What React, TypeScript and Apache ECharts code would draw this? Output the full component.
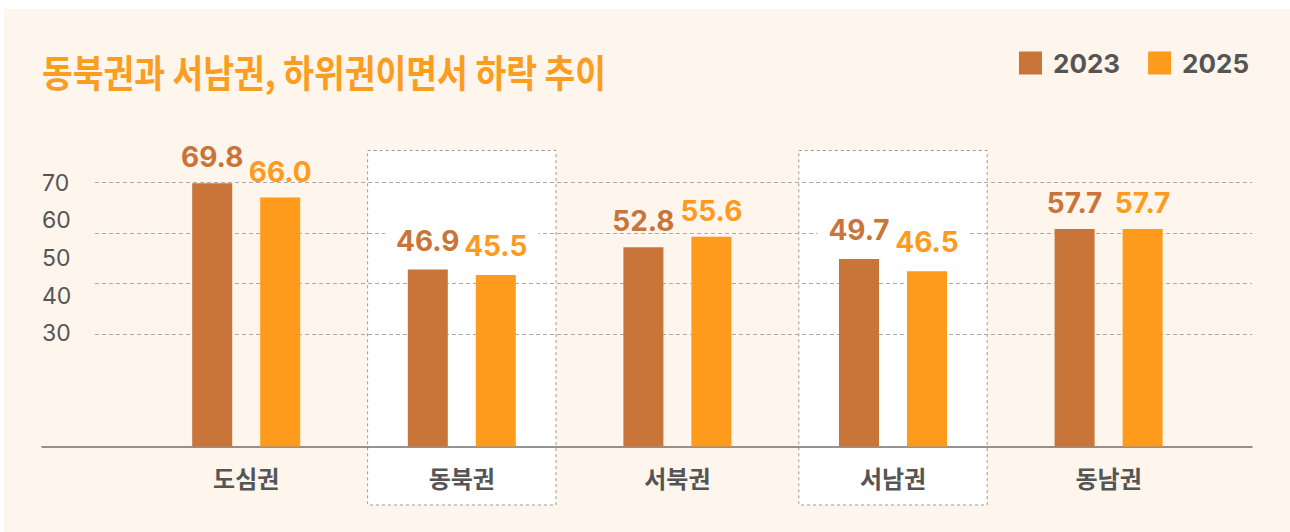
import React, { useEffect, useRef } from "react";
import * as echarts from "echarts";

const titleText = "동북권과 서남권, 하위권이면서 하락 추이";
const categories = ["도심권", "동북권", "서북권", "서남권", "동남권"];
const seriesNames = ["2023", "2025"];
const values2023 = [69.8, 46.9, 52.8, 49.7, 57.7];
const values2025 = [66.0, 45.5, 55.6, 46.5, 57.7];
const yTickLabels = [30, 40, 50, 60, 70];
const highlighted = ["동북권", "서남권"];

const C2023 = "#C97439";
const C2025 = "#FF9B1C";
const TITLE_C = "#FA9D20";
const CREAM = "#FEF5EC";
const W = 1290;
const H = 532;

export default function App() {
  const ref = useRef<HTMLDivElement>(null);

  useEffect(() => {
    if (!ref.current) return;
    const chart = echarts.init(ref.current, null, { renderer: "svg" });
    const top = 182.5;
    const baseY = 446.5;

    // side: 0 = left bar of the pair, 1 = right bar
    const mk = (vals: number[], side: number) =>
      vals.map((v, i) => ({
        value: v,
        label: highlighted.includes(categories[i])
          ? {
              backgroundColor: "#ffffff",
              padding: side === 0 ? [3, 3, 3, 11] : [3, 11, 3, 3],
              offset: side === 0 ? [-4, 0] : [4, 0],
            }
          : {},
      }));

    const barLabel = (color: string) => ({
      show: true,
      position: "top",
      distance: 12,
      fontSize: 28,
      fontWeight: "bold",
      fontFamily: "Inter",
      color,
      formatter: (p: any) => Number(p.value).toFixed(1),
    });

    chart.setOption({
      animation: false,
      backgroundColor: "#ffffff",
      textStyle: { fontFamily: 'Inter, "Noto Sans CJK KR", sans-serif' },
      legend: {
        data: seriesNames,
        right: 36,
        top: 45,
        itemWidth: 23,
        itemHeight: 23,
        itemGap: 28,
        icon: "rect",
        textStyle: {
          fontSize: 26,
          fontWeight: "bold",
          color: "#555555",
          fontFamily: "Inter",
          padding: [0, 0, 0, 6],
        },
      },
      grid: [
        { left: 42, right: 38, top, bottom: H - baseY },
        { left: 95, right: 38, top, bottom: H - 334 },
        { left: 138.4, right: 73.6, top, bottom: H - baseY },
      ],
      xAxis: [
        {
          type: "value",
          gridIndex: 0,
          min: 0,
          max: 1,
          axisLine: { show: true, onZero: false, lineStyle: { color: "#707070", width: 1.5 } },
          axisTick: { show: false },
          axisLabel: { show: false },
          splitLine: { show: false },
        },
        { type: "value", gridIndex: 1, min: 0, max: 1, show: false },
        {
          type: "category",
          gridIndex: 2,
          data: categories,
          axisLine: { show: false },
          axisTick: { show: false },
          axisLabel: {
            margin: 18.5,
            fontSize: 24,
            fontWeight: "bold",
            color: "#555555",
            fontFamily: '"Noto Sans CJK KR"',
          },
        },
      ],
      yAxis: [
        {
          type: "value",
          gridIndex: 0,
          min: 0,
          max: 70,
          interval: 10,
          axisLine: { show: false },
          axisTick: { show: false },
          splitLine: { show: false },
          axisLabel: {
            inside: true,
            margin: 0,
            fontSize: 23,
            color: "#555555",
            fontFamily: "Inter",
            formatter: (v: number) => (yTickLabels.includes(v) ? String(v) : ""),
          },
        },
        {
          type: "value",
          gridIndex: 1,
          min: 0,
          max: 3,
          interval: 1,
          axisLine: { show: false },
          axisTick: { show: false },
          axisLabel: { show: false },
          splitLine: { show: true, lineStyle: { color: "#aaaaaa", type: [4, 3], width: 1 } },
        },
        { type: "value", gridIndex: 2, min: 0, max: 70, show: false },
      ],
      series: [
        {
          type: "bar",
          name: seriesNames[0],
          xAxisIndex: 2,
          yAxisIndex: 2,
          data: mk(values2023, 0),
          barWidth: 40,
          barGap: "70%",
          itemStyle: { color: C2023 },
          label: barLabel(C2023),
        },
        {
          type: "bar",
          name: seriesNames[1],
          xAxisIndex: 2,
          yAxisIndex: 2,
          data: mk(values2025, 1),
          barWidth: 40,
          barGap: "70%",
          itemStyle: { color: C2025 },
          label: barLabel(C2025),
        },
      ],
    });

    const boxes = highlighted.map((c) => {
      const cx = chart.convertToPixel({ xAxisIndex: 2 } as any, c) as number;
      return {
        type: "rect",
        z: -5,
        silent: true,
        shape: { x: cx - 94.2, y: 150.5, width: 188.4, height: 354.5 },
        style: { fill: "#ffffff", stroke: "#9a9a9a", lineWidth: 1, lineDash: [3, 3] },
      };
    });

    chart.setOption({
      graphic: [
        {
          type: "rect",
          z: -10,
          silent: true,
          shape: { x: 4, y: 9, width: W - 4, height: H - 9 },
          style: { fill: CREAM },
        },
        ...boxes,
        {
          type: "text",
          z: 5,
          x: 42,
          y: 70,
          scaleX: 0.88,
          style: {
            text: titleText,
            font: 'bold 38px "Noto Sans CJK KR"',
            fill: TITLE_C,
            align: "left",
            verticalAlign: "middle",
          },
        },
      ],
    });

    return () => chart.dispose();
  }, []);

  return (
    <div
      ref={ref}
      style={{ position: "absolute", left: 0, top: 0, width: W, height: H }}
    />
  );
}
